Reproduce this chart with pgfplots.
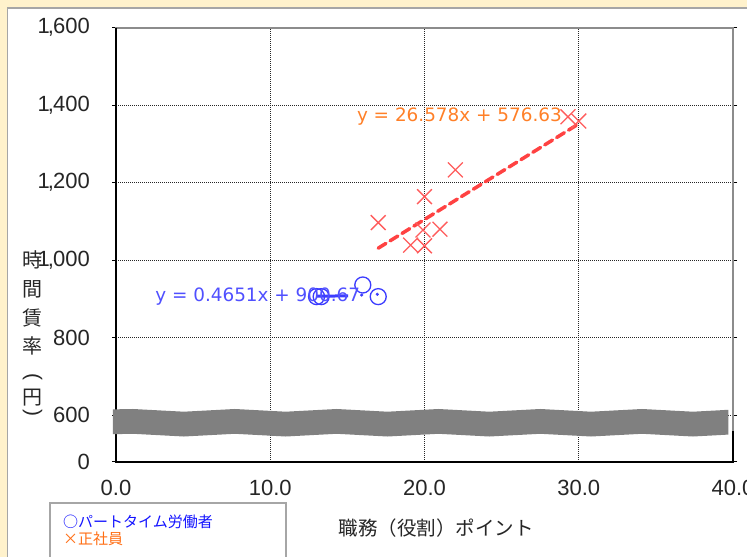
\documentclass[border=0pt]{standalone}
\usepackage{pgfplots}
\pgfplotsset{compat=1.18}
\usepackage{fontspec}
\setmainfont{Liberation Sans}
\newfontfamily\jp{Noto Sans CJK JP}
\newfontfamily\dv{DejaVu Sans}
\definecolor{cream}{RGB}{255,242,204}
\definecolor{bandgray}{RGB}{128,128,128}
\definecolor{redx}{RGB}{255,92,92}
\definecolor{redline}{RGB}{255,66,66}
\definecolor{orangetxt}{RGB}{255,128,40}
\definecolor{bluec}{RGB}{60,60,255}
\definecolor{bluetxt}{RGB}{80,80,255}
\definecolor{legblue}{RGB}{20,20,255}
\definecolor{legorange}{RGB}{255,110,20}
\begin{document}
\begin{tikzpicture}[x=1bp,y=1bp]
\useasboundingbox (0,0) rectangle (747,557);
\fill[cream] (0,0) rectangle (747,557);
\filldraw[fill=white, draw=black!35, line width=1.5bp] (7.5,-20) rectangle (790,549);
\begin{axis}[
  at={(116bp,95.3bp)}, anchor=south west, scale only axis,
  width=617bp, height=434bp,
  xmin=0, xmax=40, ymin=480, ymax=1600, clip=false,
  xtick={0,10,20,30,40}, xticklabels={0.0,10.0,20.0,30.0,40.0},
  ytick={480,600,800,1000,1200,1400,1600},
  yticklabels={0,600,800,{1\kern-2bp,\kern-1bp000},{1\kern-2bp,\kern-1bp200},{1\kern-2bp,\kern-1bp400},{1\kern-2bp,\kern-1bp600}},
  grid=major,
  major grid style={black!85, line width=0.7bp, dash pattern=on 1bp off 1bp},
  axis line style={draw=black!45, line width=2bp},
  tick align=outside, major tick length=4bp,
  xtick style={draw=none}, ytick style={black, line width=0.8bp},
  ticklabel style={font=\fontsize{22bp}{24bp}\selectfont, text=black!85},
  yticklabel style={inner sep=0pt, xshift=-22bp},
  xticklabel style={inner sep=0pt, yshift=-14bp},
]
\draw[black, line width=2bp] (axis cs:0,1600) -- (axis cs:0,480) -- (axis cs:40,480) -- (axis cs:40,560);
% wavy break band
\addplot[fill=bandgray, draw=none] coordinates {
 (-0.2,615) (1.1,616) (2.75,612.5) (4.4,609) (6.05,612.5) (7.7,616) (9.35,612.5) (11.0,609)
 (12.65,612.5) (14.3,616) (15.95,612.5) (17.6,609) (19.25,612.5) (20.9,616) (22.55,612.5)
 (24.2,609) (25.85,612.5) (27.5,616) (29.15,612.5) (30.8,609) (32.45,612.5) (34.1,616)
 (35.75,612.5) (37.4,609) (39.05,612.5) (39.7,614)
 (39.7,550) (39.05,548.5) (37.4,545) (35.75,548.5) (34.1,552) (32.45,548.5) (30.8,545)
 (29.15,548.5) (27.5,552) (25.85,548.5) (24.2,545) (22.55,548.5) (20.9,552) (19.25,548.5)
 (17.6,545) (15.95,548.5) (14.3,552) (12.65,548.5) (11.0,545) (9.35,548.5) (7.7,552)
 (6.05,548.5) (4.4,545) (2.75,548.5) (1.1,552) (-0.2,551)
} -- cycle;
% regular employees
\addplot[only marks, mark=x, mark size=10.5bp, redx, mark options={line width=1.3bp}] coordinates {
 (17.0,1097) (20.0,1164) (22.0,1233) (19.9,1078) (21.0,1080) (19.1,1039) (20.0,1037) (29.3,1370) (30.0,1359)
};
\addplot[redline, line width=3.5bp, dash pattern=on 9bp off 5bp, line cap=round] coordinates {(17.0,1031) (30.0,1352)};
% part-time workers
\addplot[bluec, line width=3bp] coordinates {(13.0,907) (15.05,908)};
\addplot[only marks, mark=o, mark size=8bp, bluec, mark options={line width=1.3bp}] coordinates {
 (13.0,906) (13.3,906) (16.0,936) (17.0,906)
};
\addplot[only marks, mark=*, mark size=1.4bp, bluec] coordinates {(15.93,910) (16.94,912)};
\end{axis}
% trendline equations
\node[text=orangetxt, font=\dv\fontsize{18.4bp}{20bp}\selectfont, inner sep=0pt] at (459.4,440.3) {y = 26.578x + 576.63};
\node[text=bluetxt, font=\dv\fontsize{18.4bp}{20bp}\selectfont, inner sep=0pt] at (257.7,260.3) {y = 0.4651x + 900.67};
% y label
\begin{scope}[every node/.style={font=\jp\fontsize{20bp}{22bp}\selectfont, inner sep=0pt, text=black!85}]
\node at (32.5,297.3) {時};
\node at (32.5,267.3) {間};
\node at (32.5,238.7) {賃};
\node at (32.5,211.2) {率};
\node[rotate=-90, font=\fontsize{21bp}{22bp}\selectfont] at (32.5,180) {(};
\node at (32.5,159.5) {円};
\node[rotate=-90, font=\fontsize{21bp}{22bp}\selectfont] at (32.5,144) {)};
\end{scope}
% x label
\node[font=\jp\fontsize{19.5bp}{22bp}\selectfont, text=black!85, inner sep=0pt] at (436,29) {職務（役割）ポイント};
% legend
\filldraw[fill=white, draw=black!35, line width=1.2bp] (50,54) rectangle (286,-20);
\node[anchor=west, font=\jp\fontsize{15bp}{17bp}\selectfont, text=legblue, inner sep=0pt] at (63,35.3) {○パートタイム労働者};
\node[anchor=west, font=\jp\fontsize{15bp}{17bp}\selectfont, text=legorange, inner sep=0pt] at (63,17.7) {×正社員};
\end{tikzpicture}
\end{document}
